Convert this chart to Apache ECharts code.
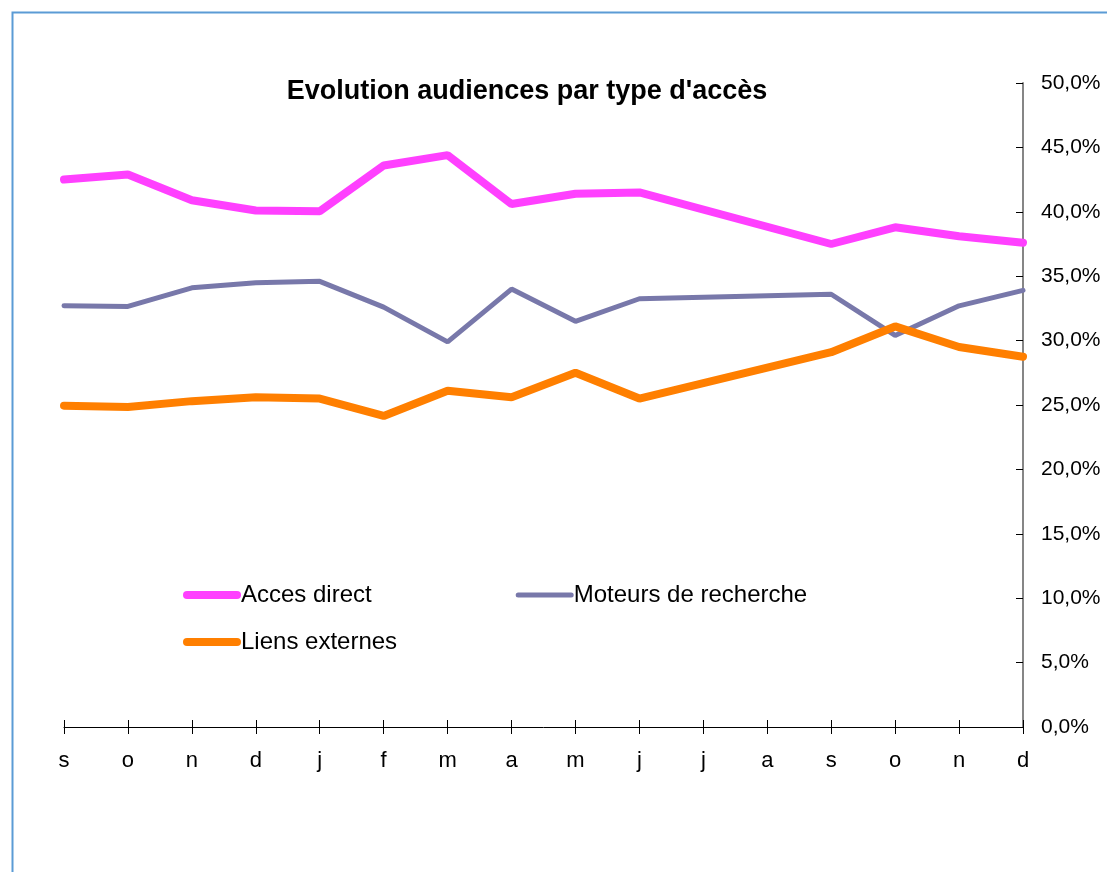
<!DOCTYPE html>
<html>
<head>
<meta charset="utf-8">
<script src="https://cdn.jsdelivr.net/npm/echarts@6/dist/echarts.min.js"></script>
<style>
  html, body { margin: 0; padding: 0; background: #fff; }
  #chart { width: 1107px; height: 872px; }
</style>
</head>
<body>
<div id="chart"></div>
<script>
// months, sept -> dec of the next year
const months = ["s", "o", "n", "d", "j", "f", "m", "a", "m", "j", "j", "a", "s", "o", "n", "d"];
// values in %, null = no data (line drawn straight across)
const accesDirect = [42.5, 42.9, 40.9, 40.1, 40.05, 43.6, 44.4, 40.6, 41.4, 41.5, null, null, 37.5, 38.8, 38.1, 37.6];
const moteurs = [32.7, 32.65, 34.1, 34.5, 34.6, 32.6, 29.9, 34.0, 31.5, 33.25, null, null, 33.6, 30.4, 32.7, 33.9];
const liensExternes = [24.95, 24.85, 25.3, 25.6, 25.5, 24.15, 26.1, 25.6, 27.5, 25.5, null, null, 29.1, 31.1, 29.5, 28.75];
const yTicks = { min: 0, max: 50, step: 5 };

const font = "Arial, 'Liberation Sans', sans-serif";
const colors = { direct: "#FF40FF", moteurs: "#7878AA", liens: "#FF7F00" };
let chart = echarts.init(document.getElementById("chart"));

function pct(v) {
  return v.toFixed(1).replace(".", ",") + "%";
}

// flat bar icons so the legend looks like the thick line strokes
const thickIcon = "path://M4,0 L54,0 A4,4 0 0 1 54,8 L4,8 A4,4 0 0 1 4,0 Z";
const thinIcon = "path://M2.5,0 L55.5,0 A2.5,2.5 0 0 1 55.5,5 L2.5,5 A2.5,2.5 0 0 1 2.5,0 Z";

const legendText = { fontFamily: font, fontSize: 24, color: "#000", padding: [0, 0, 0, -5] };

let option = {
  animation: false,
  backgroundColor: "#fff",
  textStyle: { fontFamily: font, color: "#000" },
  title: {
    text: "Evolution audiences par type d'accès",
    left: 522,
    top: 73,
    textAlign: "center",
    textStyle: { fontFamily: font, fontSize: 27, fontWeight: "bold", color: "#000" }
  },
  graphic: [
    {
      type: "rect",
      shape: { x: 12.5, y: 12.5, width: 1200, height: 1000 },
      style: { fill: null, stroke: "#5B9BD5", lineWidth: 2 },
      silent: true
    }
  ],
  legend: [
    {
      data: [
        { name: "Acces direct", icon: thickIcon },
        { name: "Moteurs de recherche", icon: thinIcon }
      ],
      left: 178,
      top: 578,
      itemWidth: 58,
      itemHeight: 14,
      itemGap: 144,
      textStyle: legendText
    },
    {
      data: [{ name: "Liens externes", icon: thickIcon }],
      left: 178,
      top: 625,
      itemWidth: 58,
      itemHeight: 14,
      textStyle: legendText
    }
  ],
  grid: {
    left: 64,
    right: 84,
    top: 83,
    bottom: 145
  },
  xAxis: [
    {
      type: "category",
      data: months,
      boundaryGap: false,
      axisLine: { lineStyle: { color: "#000", width: 1 } },
      axisTick: { show: true, alignWithLabel: true, length: 7, lineStyle: { color: "#000" } },
      axisLabel: { fontFamily: font, fontSize: 22, color: "#000", margin: 23 },
      splitLine: { show: false }
    },
    {
      type: "category",
      data: months,
      boundaryGap: false,
      position: "bottom",
      axisLine: { show: false },
      axisTick: { show: true, inside: true, length: 7, lineStyle: { color: "#000" } },
      axisLabel: { show: false },
      splitLine: { show: false }
    }
  ],
  yAxis: {
    type: "value",
    position: "right",
    min: yTicks.min,
    max: yTicks.max,
    interval: yTicks.step,
    axisLine: { show: true, lineStyle: { color: "#868686", width: 2 } },
    axisTick: { show: true, inside: true, length: 7, lineStyle: { color: "#000" } },
    axisLabel: { fontFamily: font, fontSize: 21, color: "#000", margin: 18, padding: [5, 0, 0, 0], formatter: pct },
    splitLine: { show: false }
  },
  series: [
    {
      name: "Acces direct",
      type: "line",
      data: accesDirect,
      connectNulls: true,
      symbol: "none",
      color: colors.direct,
      lineStyle: { width: 8, color: colors.direct, cap: "round" }
    },
    {
      name: "Moteurs de recherche",
      type: "line",
      data: moteurs,
      connectNulls: true,
      symbol: "none",
      color: colors.moteurs,
      lineStyle: { width: 5, color: colors.moteurs, cap: "round" }
    },
    {
      name: "Liens externes",
      type: "line",
      data: liensExternes,
      connectNulls: true,
      symbol: "none",
      color: colors.liens,
      lineStyle: { width: 8, color: colors.liens, cap: "round" }
    }
  ]
};

chart.setOption(option);
</script>
</body>
</html>
